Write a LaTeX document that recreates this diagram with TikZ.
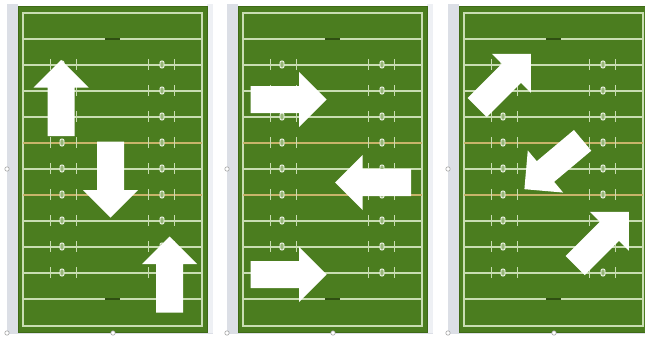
\documentclass[tikz,border=0pt]{standalone}
\definecolor{turf}{HTML}{4B7D1F}
\definecolor{turfedge}{HTML}{3E6A16}
\definecolor{chalk}{HTML}{C9DDB2}
\definecolor{goldline}{HTML}{C8B46A}
\definecolor{stripgray}{HTML}{DCDFE6}
\definecolor{striplight}{HTML}{EEF0F4}
\definecolor{postdark}{HTML}{2F4F12}
\tikzset{
  fieldbox/.style={fill=turf, draw=turfedge, line width=1pt},
  chalkline/.style={draw=chalk, line width=1.1pt},
  goldchalk/.style={draw=goldline, line width=1.2pt},
  hashmark/.style={draw=chalk, line width=0.9pt},
  yardnum/.style={draw=white!90!chalk, fill=chalk!60!turf, line width=0.8pt, rounded corners=1.2pt},
  playarrow/.style={fill=white},
  handle/.style={draw=gray!70, fill=white, line width=0.6pt},
}
\newcommand{\playarrow}[3]{%
  \fill[playarrow, shift={(#1,#2)}, rotate=#3]
    (38,0) -- (10.5,27.5) -- (10.5,13.5) -- (-38,13.5) -- (-38,-13.5)
    -- (10.5,-13.5) -- (10.5,-27.5) -- cycle;}
\begin{document}
\begin{tikzpicture}[x=1pt,y=-1pt]
\useasboundingbox (0,0) rectangle (645,337);
\fill[white] (0,0) rectangle (645,337);
\foreach \o in {0,220,441}{
  % side strips
  \fill[stripgray] (\o+7,4) rectangle (\o+18,333);
  \fill[striplight] (\o+207,4) rectangle (\o+213,333);
  \draw[stripgray, line width=0.8pt] (\o+7,333) -- (\o+213,333);
  % field
  \path[fieldbox] (\o+18,7) rectangle (\o+207,332);
  \draw[chalkline] (\o+23,13) rectangle (\o+202,326);
  % yard lines
  \foreach \y in {39,65,91,117,169,221,247,273,299}{
    \draw[chalkline] (\o+23,\y) -- (\o+202,\y);}
  \foreach \y in {143,195}{
    \draw[goldchalk] (\o+23,\y) -- (\o+202,\y);}
  % goal posts
  \foreach \y in {39,299}{
    \fill[postdark] (\o+105,\y-1.3) rectangle (\o+120,\y+1.3);}
  % hash marks and numbers
  \foreach \y in {65,91,117,143,169,195,221,247,273}{
    \foreach \x in {50,76,148,174}{
      \draw[hashmark] (\o+\x,\y-6) -- (\o+\x,\y+5);}
    \foreach \x in {62,162}{
      \draw[yardnum] (\o+\x-2,\y-4) rectangle (\o+\x+2,\y+3);}
  }
  % selection handles
  \draw[handle] (\o+7,169) circle (2.2);
  \draw[handle] (\o+7,333) circle (2.2);
  \draw[handle] (\o+113,333) circle (2.2);
}
% panel 1 arrows
\playarrow{61}{98}{90}
\playarrow{110.5}{179.5}{270}
\playarrow{169.5}{274.5}{90}
% panel 2 arrows
\playarrow{288.5}{99.5}{0}
\playarrow{373}{182.5}{180}
\playarrow{288.5}{274.5}{0}
% panel 3 arrows
\playarrow{504}{80.75}{45}
\playarrow{553.5}{164.75}{220}
\playarrow{602}{238.75}{45}
\end{tikzpicture}
\end{document}
